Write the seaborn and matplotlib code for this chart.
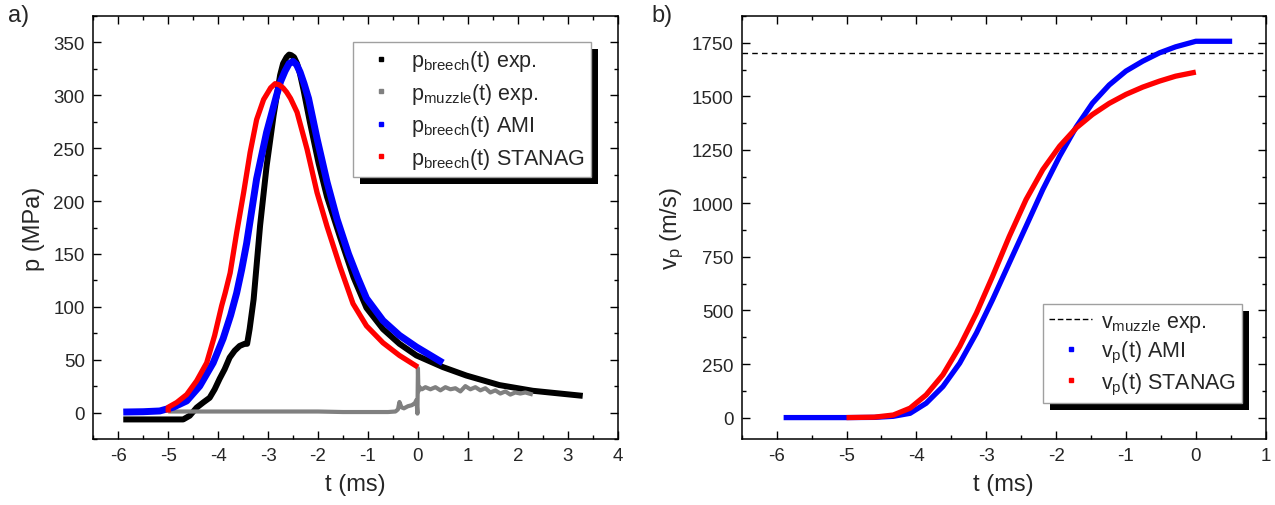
import matplotlib
matplotlib.use("Agg")
import matplotlib.pyplot as plt
import seaborn as sns
from matplotlib.lines import Line2D
from matplotlib.patches import Rectangle
from matplotlib.transforms import IdentityTransform
from matplotlib.ticker import MultipleLocator

# ---- panel a) pressure curves (read off the figure) ----
t_breech_exp = [-5.9, -4.7, -4.57, -4.43, -4.3, -4.17, -4.07, -3.97, -3.87, -3.77, -3.67, -3.57,
                -3.47, -3.42, -3.37, -3.29, -3.16, -3.03, -2.89, -2.76, -2.7, -2.63, -2.58,
                -2.54, -2.48, -2.42, -2.36, -2.29, -2.16, -1.99, -1.82, -1.56, -1.29, -1.03,
                -0.7, -0.37, -0.03, 0.5, 0.97, 1.63, 2.3, 3.3]
p_breech_exp = [-6.5, -6.5, -3, 4.7, 9.5, 14, 22, 32, 41, 52, 58.5, 63,
                65, 65, 79, 107, 177, 233, 281, 319, 330, 336, 338.5,
                338, 336, 330, 320, 305, 274, 236, 204, 166, 128, 99,
                79, 65, 54, 43, 35, 26, 20.6, 15.8]

t_muzzle_exp = [-5.0, -4.5, -4.0, -3.5, -3.0, -2.5, -2.0, -1.5, -1.0, -0.6, -0.45, -0.4, -0.37,
                -0.33, -0.28, -0.2, -0.12, -0.06, -0.03, -0.01, 0.0, 0.01, 0.03, 0.08, 0.15,
                0.25, 0.35, 0.45, 0.55, 0.65, 0.75, 0.85, 0.95, 1.05, 1.15, 1.25, 1.35, 1.45,
                1.55, 1.65, 1.75, 1.85, 1.95, 2.05, 2.15, 2.3]
p_muzzle_exp = [1, 1, 1, 1, 1, 1, 1, 0.5, 0.5, 0.5, 1, 3, 10,
                5, 4, 6, 7, 9, 12, -1, 42, 20, 24, 22, 24,
                22, 24, 21, 24, 22, 23, 20, 25, 22, 24, 21, 23, 19,
                21, 18, 20, 17, 19, 18, 19, 17]

t_breech_ami = [-5.9, -5.5, -5.17, -4.9, -4.63, -4.37, -4.1, -3.9, -3.75, -3.63, -3.53, -3.43,
                -3.23, -3.03, -2.83, -2.75, -2.66, -2.58, -2.5, -2.43, -2.36, -2.28, -2.19,
                -2.02, -1.82, -1.62, -1.39, -1.2, -1.03, -0.7, -0.37, -0.03, 0.5]
p_breech_ami = [0.5, 0.8, 1.5, 5, 11, 25, 47, 70, 92, 113, 135, 160,
                221, 265, 300, 313, 323, 330, 332, 329, 322, 311, 297,
                259, 218, 183, 150, 127, 108, 87, 73, 62, 47]

t_breech_stanag = [-5.0, -5.0, -4.83, -4.63, -4.43, -4.23, -4.07, -3.93, -3.86, -3.76, -3.63,
                   -3.49, -3.36, -3.23, -3.09, -3.0, -2.95, -2.86, -2.78, -2.7, -2.63, -2.55,
                   -2.48, -2.42, -2.22, -2.02, -1.82, -1.56, -1.3, -1.03, -0.7, -0.37, 0.0]
p_breech_stanag = [0, 5, 9.5, 17, 30, 47, 73, 101, 113, 132, 170,
                   208, 246, 277, 296, 303, 307, 311, 310, 307, 303, 297,
                   290, 284, 249, 208, 176, 138, 103, 82, 66, 54, 43]

# ---- panel b) projectile velocity ----
t_vp_ami = [-5.9, -5.0, -4.6, -4.33, -4.09, -3.86, -3.62, -3.38, -3.14, -2.91, -2.67, -2.43,
            -2.19, -1.95, -1.71, -1.48, -1.24, -1.0, -0.76, -0.52, -0.29, 0.0, 0.52]
vp_ami = [0, 0, 1, 6, 20, 67, 145, 254, 395, 550, 722, 893,
          1065, 1220, 1358, 1468, 1553, 1618, 1664, 1703, 1731, 1757, 1757]

t_vp_stanag = [-5.0, -4.6, -4.33, -4.09, -3.86, -3.62, -3.38, -3.14, -2.91, -2.67, -2.43,
               -2.19, -1.95, -1.71, -1.48, -1.24, -1.0, -0.76, -0.52, -0.29, 0.0]
vp_stanag = [0, 2, 12, 44, 106, 200, 332, 488, 659, 846, 1018,
             1158, 1267, 1353, 1415, 1467, 1509, 1543, 1571, 1594, 1613]

v_muzzle_exp = 1704

sns.set_theme(style="ticks")
plt.rcParams['font.family'] = ['Liberation Sans', 'DejaVu Sans']
plt.rcParams['mathtext.fontset'] = 'custom'
plt.rcParams['mathtext.rm'] = 'Liberation Sans'
plt.rcParams['mathtext.it'] = 'Liberation Sans:italic'
plt.rcParams['axes.unicode_minus'] = False

fig = plt.figure(figsize=(12.75, 5.06), dpi=100)
ax1 = fig.add_axes([93.3 / 1275, 1 - 440 / 506, 524.4 / 1275, 423 / 506])
ax2 = fig.add_axes([741.7 / 1275, 1 - 440 / 506, 524 / 1275, 423 / 506])

kw = dict(estimator=None, sort=False, legend=False, solid_capstyle='butt')
sns.lineplot(x=t_breech_exp, y=p_breech_exp, color='black', lw=4.3, ax=ax1, **kw)
sns.lineplot(x=t_muzzle_exp, y=p_muzzle_exp, color='#808080', lw=3.0, ax=ax1, **kw)
sns.lineplot(x=t_breech_ami, y=p_breech_ami, color='#0000ff', lw=5.0, ax=ax1, **kw)
sns.lineplot(x=t_breech_stanag, y=p_breech_stanag, color='#ff0000', lw=3.8, ax=ax1, **kw)

ax2.axhline(v_muzzle_exp, color='black', lw=1, ls=(0, (4, 3)))
sns.lineplot(x=t_vp_ami, y=vp_ami, color='#0000ff', lw=3.8, ax=ax2, **kw)
sns.lineplot(x=t_vp_stanag, y=vp_stanag, color='#ff0000', lw=3.8, ax=ax2, **kw)

ax1.set_xlim(-6.5, 4)
ax1.set_ylim(-25, 375)
ax1.xaxis.set_major_locator(MultipleLocator(1))
ax1.xaxis.set_minor_locator(MultipleLocator(0.5))
ax1.yaxis.set_major_locator(MultipleLocator(50))
ax1.yaxis.set_minor_locator(MultipleLocator(25))

ax2.set_xlim(-6.5, 1)
ax2.set_ylim(-100, 1875)
ax2.xaxis.set_major_locator(MultipleLocator(1))
ax2.xaxis.set_minor_locator(MultipleLocator(0.5))
ax2.yaxis.set_major_locator(MultipleLocator(250))
ax2.yaxis.set_minor_locator(MultipleLocator(125))

for ax in (ax1, ax2):
    for s in ax.spines.values():
        s.set_visible(True)
        s.set_linewidth(1.1)
        s.set_color('black')
    ax.tick_params(which='both', direction='in', top=True, right=True, color='black', width=1.0)
    ax.tick_params(which='major', length=6, labelsize=13.5, pad=6)
    ax.tick_params(which='minor', length=3)
    ax.set_xlabel('t (ms)', fontsize=17, labelpad=6)

ax1.set_ylabel('p (MPa)', fontsize=17, labelpad=6)
ax2.set_ylabel(r'v$_\mathrm{p}$ (m/s)', fontsize=17, labelpad=4)

leg_kw = dict(borderaxespad=0, fontsize=15.5, frameon=True, fancybox=False, framealpha=1,
              edgecolor='#a0a0a0', handlelength=2.0, handletextpad=0.4, borderpad=0.3)

sq = dict(marker='s', ls='none', markersize=3.5)
h1 = [Line2D([], [], color='black', **sq), Line2D([], [], color='#808080', **sq),
      Line2D([], [], color='#0000ff', **sq), Line2D([], [], color='#ff0000', **sq)]
l1 = [r'p$_\mathrm{breech}$(t) exp.', r'p$_\mathrm{muzzle}$(t) exp.',
      r'p$_\mathrm{breech}$(t) AMI', r'p$_\mathrm{breech}$(t) STANAG']
leg1 = ax1.legend(h1, l1, loc='upper right', bbox_to_anchor=(0.949, 0.939),
                  labelspacing=0.35, **leg_kw)

h2 = [Line2D([], [], color='black', lw=1, ls=(0, (4, 2))),
      Line2D([], [], color='#0000ff', **sq), Line2D([], [], color='#ff0000', **sq)]
l2 = [r'v$_\mathrm{muzzle}$ exp.', r'v$_\mathrm{p}$(t) AMI', r'v$_\mathrm{p}$(t) STANAG']
leg2 = ax2.legend(h2, l2, loc='lower right', bbox_to_anchor=(0.955, 0.085),
                  labelspacing=0.25, **leg_kw)

fig.text(0.006, 0.99, 'a)', fontsize=17, va='top', ha='left')
fig.text(0.511, 0.99, 'b)', fontsize=17, va='top', ha='left')

# black offset shadow behind each legend box
fig.canvas.draw()
for ax, leg in ((ax1, leg1), (ax2, leg2)):
    bb = leg.get_frame().get_window_extent()
    shadow = Rectangle((bb.x0 + 7, bb.y0 - 7), bb.width, bb.height, transform=IdentityTransform(),
                       facecolor='black', edgecolor='none', zorder=leg.get_zorder() - 0.1,
                       clip_on=False)
    ax.add_artist(shadow)

fig.savefig('out.png', dpi=100)
